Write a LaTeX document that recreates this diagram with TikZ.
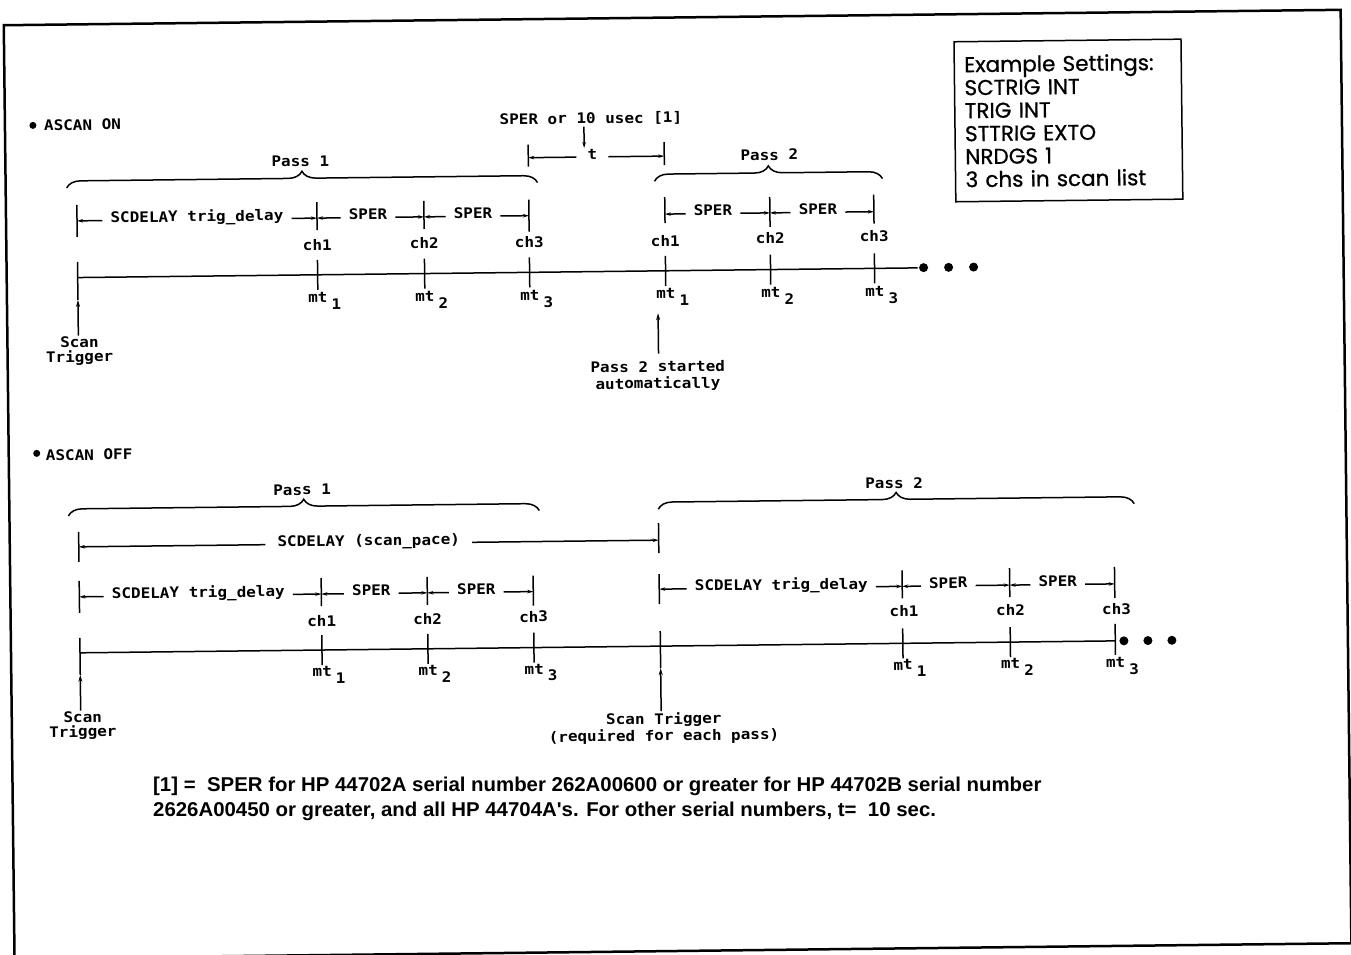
\documentclass[tikz,border=0pt]{standalone}
\usepackage{fontspec}
\newfontfamily\plotfont[FakeStretch=1.1]{DejaVu Sans Mono}
\newfontfamily\boxfont[FakeBold=0.8]{Poppins}
\newfontfamily\notefont[FakeStretch=1.02]{Liberation Sans}
\usetikzlibrary{arrows.meta, positioning, decorations.pathreplacing}

\begin{document}
\begin{tikzpicture}[
    x=1pt, y=-1pt,
    lbl/.style={font=\plotfont\bfseries\fontsize{14.5}{14.4}\selectfont, inner sep=1pt},
    dimtxt/.style={lbl, anchor=mid, inner xsep=8pt},
    tline/.style={line width=1.5pt},
    tk/.style={line width=1.5pt},
    dimarr/.style={-{Stealth[length=6pt,width=3.5pt]}, line width=1.5pt},
    arr/.style={-{Stealth[length=7pt,width=4pt]}, line width=1.5pt},
    brc/.style={decorate, decoration={brace, amplitude=14pt}, line width=1.5pt},
    tdot/.style={circle, fill=black, inner sep=0pt, minimum size=9pt},
    bull/.style={circle, fill=black, inner sep=0pt, minimum size=7pt}
]
\useasboundingbox (0,0) rectangle (1351,954);
\begin{scope}[rotate around={0.66:(675,477)}, transform shape]
\draw[line width=2.5pt] (9,17.5) rectangle (1346,951);

% settings box
\node[draw, line width=1.5pt, minimum width=227pt, minimum height=160pt,
      inner xsep=10pt, text width=207pt, align=left,
      font=\boxfont\fontsize{21.5}{23}\selectfont] (sett) at (1072.5,125)
  {Example Settings:\\SCTRIG INT\\TRIG INT\\STTRIG EXTO\\NRDGS 1\\3 chs in scan list};

% ----- ASCAN ON -----
\node[bull] (bon) at (37,118) {};
\node[lbl, anchor=west] (ascanon) at (47,118) {ASCAN ON};

\node[lbl] (sper) at (595,118) {SPER or 10 usec [1]};
\coordinate (tptr) at (588,147);
\draw[dimarr] (sper.south -| tptr) -- (tptr);
\coordinate (tL) at (532,156);
\coordinate (tR) at (668,156);
\node[dimtxt, inner xsep=11pt] (tlab) at (596,156) {t};
\draw[dimarr] (tlab.mid west) -- (tL);
\draw[dimarr] (tlab.mid east) -- (tR);
\draw[tk] (tL) ++(0,-13) -- ++(0,22);
\draw[tk] (tR) ++(0,-14) -- ++(0,23);

\coordinate (pa1) at (70,181);
\coordinate (pb1) at (541,181);
\coordinate (pa2) at (658,181);
\coordinate (pb2) at (886,181);
\draw[brc] (pa1) -- (pb1);
\draw[brc] (pa2) -- (pb2);
\node[lbl] (pass1on) at (304,157) {Pass 1};
\node[lbl] (pass2on) at (773,156) {Pass 2};

% pass 1 channels
\coordinate (a0) at (80,214);
\coordinate (a1) at (320,214);
\coordinate (a2) at (427,214);
\coordinate (a3) at (532,214);
\node[dimtxt] (ad) at (200,214) {SCDELAY trig\_delay};
\node[dimtxt] (as1) at (371,214) {SPER};
\node[dimtxt] (as2) at (476,214) {SPER};
\draw[dimarr] (ad.mid west) -- (a0);
\draw[dimarr] (ad.mid east) -- (a1);
\draw[dimarr] (as1.mid west) -- (a1);
\draw[dimarr] (as1.mid east) -- (a2);
\draw[dimarr] (as2.mid west) -- (a2);
\draw[dimarr] (as2.mid east) -- (a3);
\draw[tk] (a0) ++(0,-16) -- ++(0,32);
\draw[tk] (a1) ++(0,-16) -- ++(0,28);
\draw[tk] (a2) ++(0,-16) -- ++(0,28);
\draw[tk] (a3) ++(0,-16) -- ++(0,32);
\node[lbl] (ac1) at (320,241) {ch1};
\node[lbl] (ac2) at (427,240) {ch2};
\node[lbl] (ac3) at (532,240) {ch3};

% pass 2 channels
\coordinate (b0) at (668,214);
\coordinate (b1) at (773,214);
\coordinate (b2) at (877,214);
\node[dimtxt] (bs1) at (716,214) {SPER};
\node[dimtxt] (bs2) at (821,214) {SPER};
\draw[dimarr] (bs1.mid west) -- (b0);
\draw[dimarr] (bs1.mid east) -- (b1);
\draw[dimarr] (bs2.mid west) -- (b1);
\draw[dimarr] (bs2.mid east) -- (b2);
\draw[tk] (b0) ++(0,-17) -- ++(0,26);
\draw[tk] (b1) ++(0,-16) -- ++(0,30);
\draw[tk] (b2) ++(0,-17) -- ++(0,29);
\node[lbl] (bc1) at (668,241) {ch1};
\node[lbl] (bc2) at (773,239) {ch2};
\node[lbl] (bc3) at (877,238) {ch3};

% time line
\coordinate (l0) at (80,270.7);
\coordinate (l1) at (320,270.7);
\coordinate (l2) at (427,270.7);
\coordinate (l3) at (532,270.7);
\coordinate (l4) at (668,270.7);
\coordinate (l5) at (773,270.7);
\coordinate (l6) at (877,270.7);
\coordinate (lend) at (920,270.7);
\draw[tline] (l0) -- (lend);
\node[tdot] (don1) at (926,270.5) {};
\node[tdot] (don2) at (951,270.5) {};
\node[tdot] (don3) at (976,270.5) {};
\draw[tk] (l1) ++(0,-15) -- ++(0,30);
\draw[tk] (l2) ++(0,-15) -- ++(0,30);
\draw[tk] (l3) ++(0,-15) -- ++(0,30);
\draw[tk] (l4) ++(0,-15) -- ++(0,30);
\draw[tk] (l5) ++(0,-15) -- ++(0,30);
\draw[tk] (l6) ++(0,-15) -- ++(0,30);
\node[lbl] (mA1) at (320,297) {mt\rlap{\hspace{4pt}\raisebox{-7pt}{1}}};
\node[lbl] (mA2) at (427,297) {mt\rlap{\hspace{4pt}\raisebox{-7pt}{2}}};
\node[lbl] (mA3) at (532,297) {mt\rlap{\hspace{4pt}\raisebox{-7pt}{3}}};
\node[lbl] (mB1) at (668,297) {mt\rlap{\hspace{4pt}\raisebox{-7pt}{1}}};
\node[lbl] (mB2) at (773,297) {mt\rlap{\hspace{4pt}\raisebox{-7pt}{2}}};
\node[lbl] (mB3) at (877,297) {mt\rlap{\hspace{4pt}\raisebox{-7pt}{3}}};

\node[lbl, align=center] (st1) at (81,344) {Scan\\Trigger};
\coordinate (st1tip) at (80,293);
\draw[arr] (st1.north -| l0) -- (st1tip);
\draw[tk] (st1tip) -- (l0) -- ++(0,-15.7);

\node[lbl, align=center, font=\plotfont\bfseries\fontsize{14.5}{16.7}\selectfont] (p2auto) at (659,376) {Pass 2 started\\automatically};
\coordinate (p2tip) at (660,313);
\draw[arr, shorten <=6pt] (p2auto.north -| p2tip) -- (p2tip);

% ----- ASCAN OFF -----
\node[bull] (boff) at (37,446) {};
\node[lbl, anchor=west] (ascanoff) at (45,448) {ASCAN OFF};

\coordinate (qa1) at (68,509);
\coordinate (qb1) at (539,509);
\coordinate (qa2) at (658,509);
\coordinate (qb2) at (1134,509);
\draw[brc] (qa1) -- (qb1);
\draw[brc] (qa2) -- (qb2);
\node[lbl] (pass1off) at (302,485.5) {Pass 1};
\node[lbl] (pass2off) at (894,485.5) {Pass 2};

% scan pace
\coordinate (c0) at (78,540);
\coordinate (c1) at (658,540);
\node[dimtxt, inner xsep=12pt] (cpace) at (368,540) {SCDELAY (scan\_pace)};
\draw[dimarr] (cpace.mid west) -- (c0);
\draw[dimarr] (cpace.mid east) -- (c1);
\draw[tk] (c0) ++(0,-15) -- ++(0,30);
\draw[tk] (c1) ++(0,-17) -- ++(0,30);

% pass 1 channels
\coordinate (d0) at (78,590);
\coordinate (d1) at (320,590);
\coordinate (d2) at (426,590);
\coordinate (d3) at (532,590);
\node[dimtxt] (dd) at (197,590) {SCDELAY trig\_delay};
\node[dimtxt] (ds1) at (370,590) {SPER};
\node[dimtxt] (ds2) at (475,590) {SPER};
\draw[dimarr] (dd.mid west) -- (d0);
\draw[dimarr] (dd.mid east) -- (d1);
\draw[dimarr] (ds1.mid west) -- (d1);
\draw[dimarr] (ds1.mid east) -- (d2);
\draw[dimarr] (ds2.mid west) -- (d2);
\draw[dimarr] (ds2.mid east) -- (d3);
\draw[tk] (d0) ++(0,-16) -- ++(0,32);
\draw[tk] (d1) ++(0,-16) -- ++(0,28);
\draw[tk] (d2) ++(0,-16) -- ++(0,28);
\draw[tk] (d3) ++(0,-16) -- ++(0,30);
\node[lbl] (dc1) at (320,617) {ch1};
\node[lbl] (dc2) at (426,616) {ch2};
\node[lbl] (dc3) at (532,615) {ch3};

% pass 2 channels
\coordinate (e0) at (658,589);
\coordinate (e1) at (901,589);
\coordinate (e2) at (1008.5,589);
\coordinate (e3) at (1113.5,589);
\node[dimtxt] (ed) at (780,589) {SCDELAY trig\_delay};
\node[dimtxt] (es1) at (947,589) {SPER};
\node[dimtxt] (es2) at (1056.5,589) {SPER};
\draw[dimarr] (ed.mid west) -- (e0);
\draw[dimarr] (ed.mid east) -- (e1);
\draw[dimarr] (es1.mid west) -- (e1);
\draw[dimarr] (es1.mid east) -- (e2);
\draw[dimarr] (es2.mid west) -- (e2);
\draw[dimarr] (es2.mid east) -- (e3);
\draw[tk] (e0) ++(0,-15) -- ++(0,30);
\draw[tk] (e1) ++(0,-16) -- ++(0,28);
\draw[tk] (e2) ++(0,-17) -- ++(0,29);
\draw[tk] (e3) ++(0,-17) -- ++(0,31);
\node[lbl] (ec1) at (902.5,614) {ch1};
\node[lbl] (ec2) at (1009,614) {ch2};
\node[lbl] (ec3) at (1115,614) {ch3};

% time line
\coordinate (k0) at (78,646);
\coordinate (k1) at (320,646);
\coordinate (k2) at (426,646);
\coordinate (k3) at (532,646);
\coordinate (k4) at (658.5,646);
\coordinate (k5) at (901,646);
\coordinate (k6) at (1008.5,646);
\coordinate (k7) at (1113.5,646);
\draw[tline] (k0) -- (k7);
\node[tdot] (doff1) at (1122,646) {};
\node[tdot] (doff2) at (1146,646) {};
\node[tdot] (doff3) at (1170,646) {};
\draw[tk] (k1) ++(0,-15) -- ++(0,30);
\draw[tk] (k2) ++(0,-15) -- ++(0,30);
\draw[tk] (k3) ++(0,-15) -- ++(0,30);
\draw[tk] (k5) ++(0,-15) -- ++(0,30);
\draw[tk] (k6) ++(0,-15) -- ++(0,30);
\draw[tk] (k7) ++(0,-17) -- ++(0,31);
\node[lbl] (mC1) at (320,671) {mt\rlap{\hspace{4pt}\raisebox{-7pt}{1}}};
\node[lbl] (mC2) at (426,671) {mt\rlap{\hspace{4pt}\raisebox{-7pt}{2}}};
\node[lbl] (mC3) at (532,671) {mt\rlap{\hspace{4pt}\raisebox{-7pt}{3}}};
\node[lbl] (mD1) at (901,671) {mt\rlap{\hspace{4pt}\raisebox{-7pt}{1}}};
\node[lbl] (mD2) at (1008.5,671) {mt\rlap{\hspace{4pt}\raisebox{-7pt}{2}}};
\node[lbl] (mD3) at (1113.5,671) {mt\rlap{\hspace{4pt}\raisebox{-7pt}{3}}};

\node[lbl, align=center] (st2) at (80,719) {Scan\\Trigger};
\coordinate (st2tip) at (78,668);
\draw[arr] (st2.north -| k0) -- (st2tip);
\draw[tk] (st2tip) -- (k0) -- ++(0,-15);

\node[lbl, align=center, font=\plotfont\bfseries\fontsize{14.5}{16.7}\selectfont] (st3) at (661,728) {Scan Trigger\\(required for each pass)};
\coordinate (st3tip) at (658.5,668);
\draw[arr] (st3.north -| k4) -- (st3tip);
\draw[tk] (st3tip) -- (k4) -- ++(0,-15);
\end{scope}

% footnote
\node[anchor=west, align=left, inner sep=0pt,
      font=\notefont\bfseries\fontsize{20}{25}\selectfont] (note) at (153,799)
  {[1]~=~~SPER for HP 44702A serial number 262A00600 or greater for HP 44702B serial number\\
   2626A00450 or greater, and all HP 44704A's. For other serial numbers, t=~~10 sec.};
\end{tikzpicture}
\end{document}
